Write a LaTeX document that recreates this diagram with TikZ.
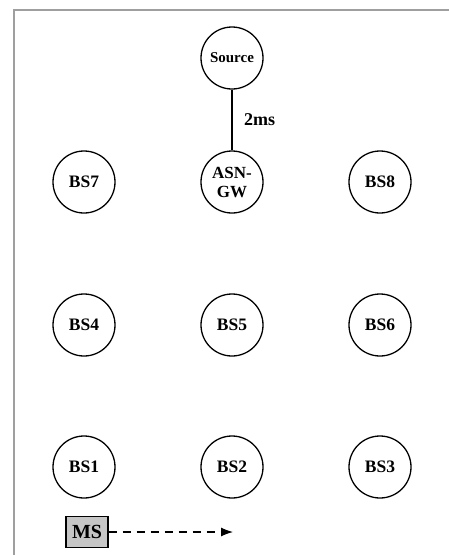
\documentclass[tikz,border=0pt]{standalone}
\usepackage{fontspec}
\setmainfont{Liberation Serif}
\usetikzlibrary{arrows.meta}
\begin{document}
\begin{tikzpicture}[x=1pt,y=-1pt,
  station/.style={circle,draw=black,line width=1.3pt,minimum size=62pt,inner sep=0pt,
    font=\fontsize{17.5}{19}\selectfont\bfseries,align=center},
  msbox/.style={rectangle,draw=black,line width=1.2pt,fill=gray!45,minimum width=42pt,
    minimum height=31pt,inner sep=1pt,font=\fontsize{20}{21}\selectfont\bfseries},
  link/.style={line width=1.4pt,draw=black},
  move/.style={line width=1.1pt,dash pattern=on 8pt off 6pt,-{Latex[length=12pt,width=9pt]}},
  frame/.style={draw=gray!75,line width=1.2pt}]
\useasboundingbox (0,0) rectangle (448,555);
\draw[frame] (14,560) -- (14,10) -- (452,10);
\node[station,font=\fontsize{15}{16}\selectfont\bfseries] (src) at (232,58) {Source};
\node[station,font=\fontsize{17}{19}\selectfont\bfseries] (asn) at (232,182) {ASN-\\GW};
\node[station] (bs7) at (84,182) {BS7};
\node[station] (bs8) at (380,182) {BS8};
\node[station] (bs4) at (84,325) {BS4};
\node[station] (bs5) at (232,325) {BS5};
\node[station] (bs6) at (380,325) {BS6};
\node[station] (bs1) at (84,467) {BS1};
\node[station] (bs2) at (232,467) {BS2};
\node[station] (bs3) at (380,467) {BS3};
\draw[link] (src) -- node[right=8pt,font=\fontsize{18}{19}\selectfont\bfseries] {2ms} (asn);
\node[msbox] (ms) at (87,532) {MS};
\coordinate (dest) at (233,532);
\draw[move] (ms) -- (dest);
\end{tikzpicture}
\end{document}
